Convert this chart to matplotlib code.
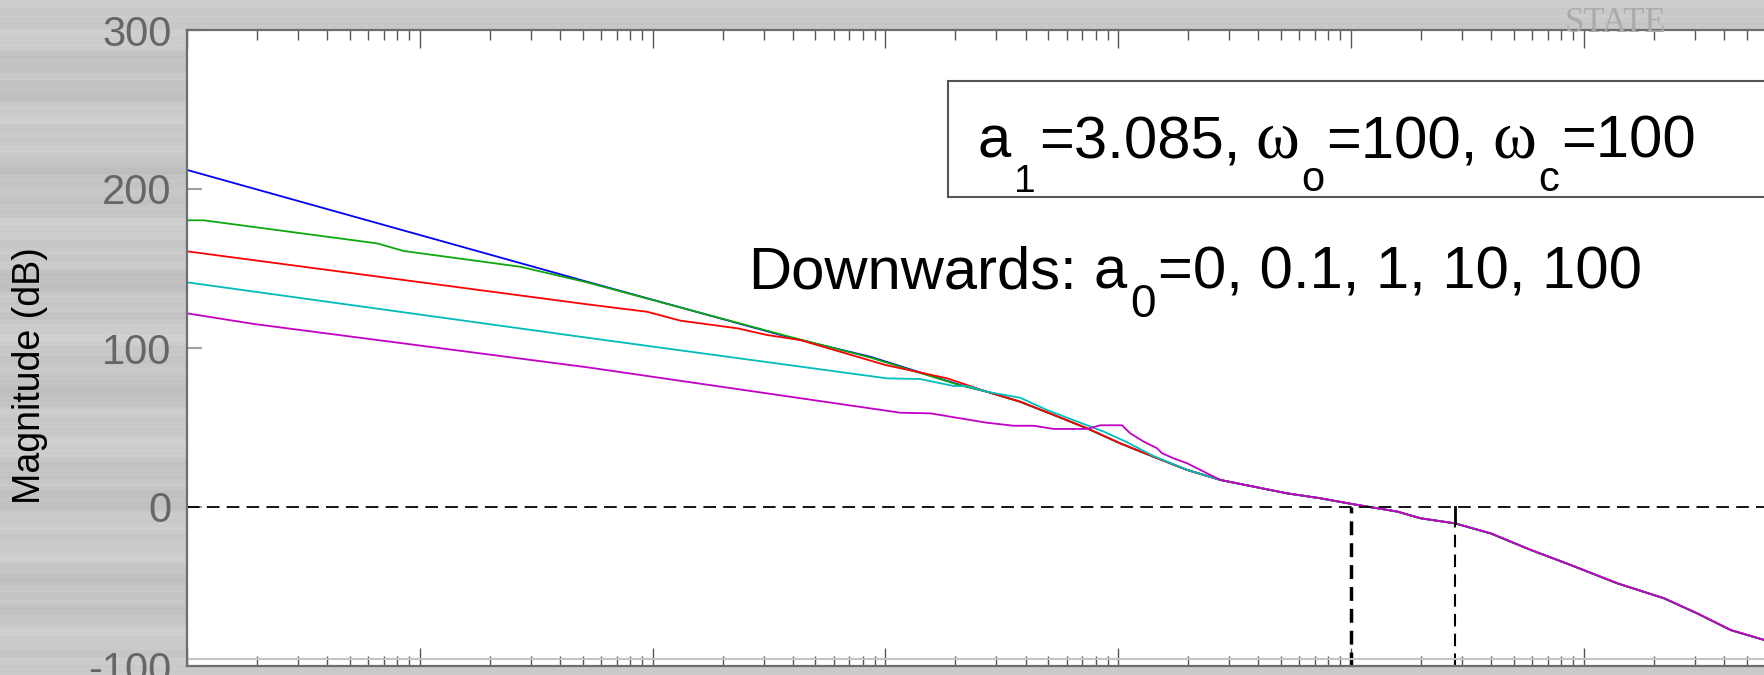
import numpy as np
import matplotlib
matplotlib.use('Agg')
import matplotlib.pyplot as plt
from matplotlib.patches import Rectangle
from matplotlib.ticker import LogLocator, NullFormatter

plt.rcParams['axes.unicode_minus'] = False

# Bode magnitude, a1=3.085, wo=100, wc=100, a0 = 0, 0.1, 1, 10, 100
# frequency in rad/s, magnitude in dB

# shared high frequency part where all curves lie on top of each other
tail_w = [2.729, 3.793, 5.284, 7.345, 10.21, 14.19, 19.77, 27.48, 38.19, 53.09,
          73.79, 100, 113.8, 158.1, 199.1, 279.9, 398.1, 591.6, 879.0, 1393,
          2208, 3069, 4276, 5943, 6500]
tail_db = [72.5, 66.2, 57.9, 49.5, 40.0, 31.6, 23.3, 17.0, 12.8, 8.6,
           5.5, 2.0, 0.6, -2.9, -7.1, -10.3, -16.6, -27.0, -36.5, -48.0,
           -57.4, -66.9, -77.4, -83.6, -85.2]

blue_w = [0.001, 0.0522, 0.3776, 0.861, 2.099]
blue_db = [212.0, 141.7, 107.1, 94.5, 76.7]

green_w = [0.001, 0.00118, 0.00655, 0.00853, 0.0270, 0.0522, 0.3776, 0.861, 2.099]
green_db = [180.3, 180.3, 165.8, 161.0, 151.1, 141.3, 107.5, 94.0, 76.5]

red_w = [0.001, 0.0522, 0.0946, 0.1315, 0.2307, 0.3097, 0.4305, 1.0, 1.841]
red_db = [160.8, 127.5, 122.8, 117.2, 112.4, 108.2, 105.0, 89.3, 80.9]

cyan_w = [0.001, 0.0522, 1.016, 1.409, 1.963, 2.239, 2.729, 3.793, 4.943,
          8.670, 10.79, 14.19]
cyan_db = [141.3, 106.5, 80.9, 80.5, 76.1, 76.1, 72.5, 68.7, 61.0,
           47.4, 41.1, 32.0]

magenta_w = [0.001, 0.00194, 0.0522, 1.159, 1.560, 2.729, 3.556, 4.335, 5.284,
             7.345, 8.375, 10.38, 11.27, 12.88, 14.69, 15.42, 17.30, 19.77, 25.70]
magenta_db = [121.8, 115.1, 87.9, 59.3, 58.9, 53.0, 51.1, 51.1, 49.1,
              49.1, 51.4, 51.4, 46.3, 41.1, 36.9, 33.8, 30.6, 27.5, 19.1]

# margin markers
w_cross = 100.0     # 0 dB crossover
w_gm = 280.0        # gain margin frequency
gm_db = -10.3

yticks = [-100, 0, 100, 200, 300]

W, H = 1764, 675
SANS = 'Liberation Sans'
SERIF = ['Liberation Serif', 'DejaVu Serif']

fig = plt.figure(figsize=(W / 100, H / 100), dpi=100)

# brushed grey slide background
bg = fig.add_axes([0, 0, 1, 1], zorder=-5)
rows = np.arange(H)
shade = (0.78 + 0.018 * np.sin(rows * 0.061) + 0.014 * np.sin(rows * 0.17 + 1.0)
         + 0.010 * np.sin(rows * 0.43 + 0.4) + 0.006 * np.sin(rows * 1.3))
bg.imshow(np.tile(shade[:, None], (1, 8)), cmap='gray', vmin=0, vmax=1,
          aspect='auto', interpolation='nearest')
bg.axis('off')
fig.text(1565 / W, 1 - 32 / H, 'STATE', fontsize=25, family=SERIF,
         color='#ababab', va='baseline')

# axes: 1e-3 .. 1e4, right part runs off the slide
left, top, bottom = 187, 30, 666
dec = 232.8
ax = fig.add_axes([left / W, 1 - bottom / H, 7 * dec / W, (bottom - top) / H])
ax.set_xscale('log')
ax.set_xlim(1e-3, 1e4)
ax.set_ylim(-100, 300)


def series(w, db):
    w = list(w)
    db = list(db)
    for tw, td in zip(tail_w, tail_db):
        if tw > w[-1]:
            w.append(tw)
            db.append(td)
    return w, db


curves = [(blue_w, blue_db, '#0000ff'),
          (green_w, green_db, '#0ea80e'),
          (red_w, red_db, '#ff0000'),
          (cyan_w, cyan_db, '#00bcbc'),
          (magenta_w, magenta_db, '#c400c4')]
for w, db, c in curves:
    x, y = series(w, db)
    ax.plot(x, y, color=c, lw=1.3)

ax.axhline(0, color='k', lw=1.3, dashes=(7, 4))
ax.plot([w_cross, w_cross], [-100, 0], color='k', lw=2.5, dashes=(4, 2.3))
ax.plot([w_gm, w_gm], [-100, gm_db], color='k', lw=1.5, dashes=(6, 3.5))
ax.plot([w_gm, w_gm], [0, gm_db], color='k', lw=2.0)
ax.plot([0, 1], [0.011, 0.011], transform=ax.transAxes, color='#c4c4c4', lw=1.5)

ax.set_yticks(yticks)
ax.tick_params(axis='y', direction='in', length=11, width=1.5, color='#a0a0a0',
               labelsize=30, labelcolor='#666666', pad=11)
for lab in ax.get_yticklabels():
    lab.set_family(SANS)
ax.xaxis.set_major_locator(LogLocator(base=10, numticks=20))
ax.xaxis.set_minor_locator(LogLocator(base=10, subs=np.arange(2, 10), numticks=20))
ax.xaxis.set_minor_formatter(NullFormatter())
ax.tick_params(axis='x', which='major', direction='in', length=13, width=1,
               color='#555555', top=True, labelbottom=False)
ax.tick_params(axis='x', which='minor', direction='in', length=7, width=1,
               color='#555555', top=True)
for s in ax.spines.values():
    s.set_color('#6e6e6e')
    s.set_linewidth(1.6)

fig.text(30 / W, 1 - 376 / H, 'Magnitude (dB)', rotation=90, fontsize=27,
         family=SANS, color='k', ha='center', va='center')

# annotation box
fig.add_artist(Rectangle((948 / W, 1 - 197 / H), (W - 948 + 20) / W, 116 / H,
                         transform=fig.transFigure, facecolor='white',
                         edgecolor='#555555', lw=1.5, zorder=3))

renderer = fig.canvas.get_renderer()


def put_text(x, y, pieces):
    for p in pieces:
        if not isinstance(p, tuple):
            x += p
            continue
        s, size, drop, fam = p
        t = fig.text(x / W, 1 - (y + drop) / H, s, fontsize=size, family=fam,
                     va='baseline', ha='left', zorder=5)
        x += t.get_window_extent(renderer).width


put_text(978, 158, [('a', 43, 0, SANS), 3, ('1', 28, 34, SANS), 3,
                    ('=3.085,', 43, 0, SANS), 15, ('\u03c9', 48, 0, SERIF), 2,
                    ('o', 30, 33, SANS), 2, ('=100,', 43, 0, SANS), 15,
                    ('\u03c9', 48, 0, SERIF), 2, ('c', 30, 33, SANS), 2,
                    ('=100', 43, 0, SANS)])
put_text(748, 288, [('Downwards:', 43, 0, SANS), 17, ('a', 43, 0, SANS), 3,
                    ('0', 33, 29, SANS), 3, ('=0, 0.1, 1, 10, 100', 43, 0, SANS)])

fig.savefig('out.png', dpi=100)
